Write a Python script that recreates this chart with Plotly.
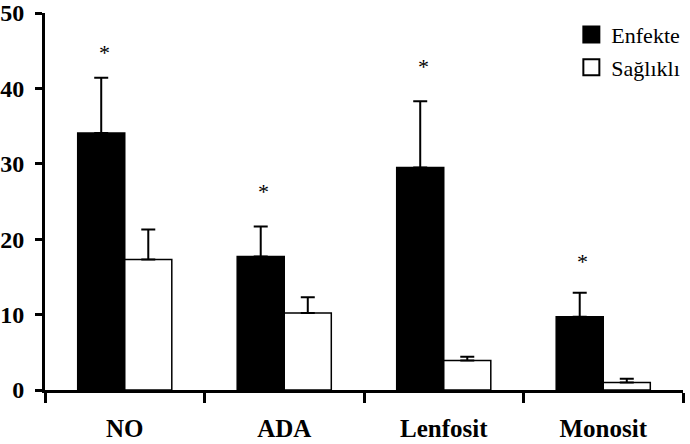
import plotly.graph_objects as go

categories = ["NO", "ADA", "Lenfosit", "Monosit"]
enfekte = [34.1, 17.7, 29.5, 9.7]
enfekte_err = [7.3, 4.0, 8.8, 3.2]
saglikli = [17.3, 10.2, 3.9, 1.0]
saglikli_err = [4.0, 2.1, 0.5, 0.5]
star_level = [45.0, 26.6, 43.2, 17.3]   # height of the "*" significance marks
y_ticks = [0, 10, 20, 30, 40, 50]

SERIF = "Liberation Serif, Times New Roman, serif"
BARGAP = 0.41

fig = go.Figure()
fig.add_trace(go.Bar(
    x=categories, y=enfekte, name="Enfekte", showlegend=False,
    marker=dict(color="black", line=dict(color="black", width=1.5)),
    error_y=dict(type="data", array=enfekte_err, arrayminus=[0] * len(enfekte),
                 symmetric=False, color="black", thickness=2, width=7),
))
fig.add_trace(go.Bar(
    x=categories, y=saglikli, name="Sağlıklı", showlegend=False,
    marker=dict(color="white", line=dict(color="black", width=1.5)),
    error_y=dict(type="data", array=saglikli_err, arrayminus=[0] * len(saglikli),
                 symmetric=False, color="black", thickness=2, width=7),
))
# legend entries
fig.add_trace(go.Scatter(x=[None], y=[None], mode="markers", name="Enfekte",
                         legendgroup="a",
                         marker=dict(symbol="square", size=16, color="black",
                                     line=dict(color="black", width=2))))
fig.add_trace(go.Scatter(x=[None], y=[None], mode="markers", name="Sağlıklı",
                         legendgroup="b",
                         marker=dict(symbol="square", size=16, color="white",
                                     line=dict(color="black", width=2))))

off = (1 - BARGAP) / 4
for i, lvl in enumerate(star_level):
    fig.add_annotation(x=i - off, y=lvl,
                       text="*", showarrow=False, xshift=3, yshift=-2,
                       yanchor="middle",
                       font=dict(family=SERIF, size=22, color="black"))

fig.update_layout(
    width=690, height=444,
    margin=dict(l=45, r=7, t=13, b=54, autoexpand=False),
    plot_bgcolor="white", paper_bgcolor="white",
    barmode="group", bargap=BARGAP, bargroupgap=0,
    showlegend=True,
    legend=dict(x=0.825, xanchor="left", y=0.998, yanchor="top",
                font=dict(family=SERIF, size=22, color="black"),
                itemsizing="trace", tracegroupgap=1, traceorder="grouped",
                bgcolor="rgba(0,0,0,0)"),
    font=dict(family=SERIF, color="black"),
)
fig.update_xaxes(
    type="category", range=[-0.5, 3.5], automargin=False,
    showline=True, linewidth=3, linecolor="black",
    ticks="outside", tickson="boundaries", ticklen=10, tickwidth=3, tickcolor="black",
    tickfont=dict(family=SERIF, size=25, color="black", weight="bold"),
    ticklabelstandoff=14, showgrid=False, zeroline=False,
)
fig.update_yaxes(
    range=[0, 50], tickvals=y_ticks, automargin=False,
    showline=True, linewidth=3, linecolor="black",
    ticks="outside", ticklen=7, tickwidth=3, tickcolor="black",
    tickfont=dict(family=SERIF, size=24, color="black", weight="bold"),
    ticklabelstandoff=6, showgrid=False, zeroline=False,
)

fig.write_html(
    "out.html",
    config={"displayModeBar": False},
    post_script="document.body.style.margin='0';document.body.style.overflow='hidden';",
)
